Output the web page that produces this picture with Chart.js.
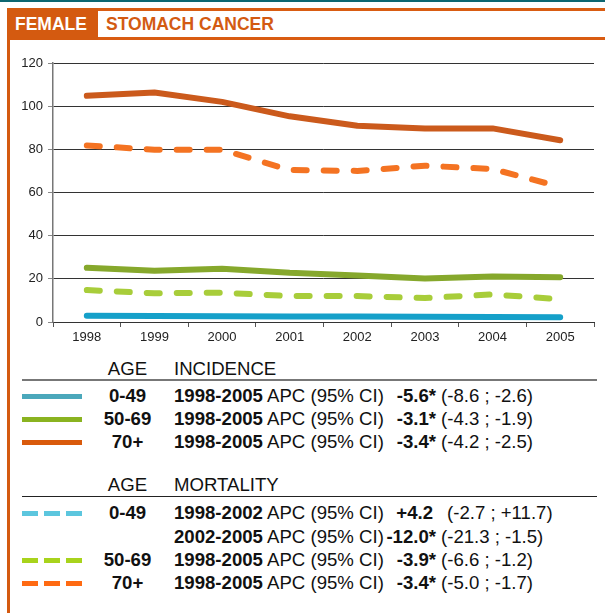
<!DOCTYPE html>
<html>
<head>
<meta charset="utf-8">
<script src="https://cdn.jsdelivr.net/npm/chart.js@4.4.1/dist/chart.umd.min.js"></script>
<style>
  html, body { margin: 0; padding: 0; background: #fff; }
  body { width: 605px; height: 613px; position: relative; overflow: hidden;
         font-family: "Liberation Sans", Arial, Helvetica, sans-serif; color: #111; }
  .abs { position: absolute; }
  #topline { left: 0; top: 0; width: 605px; height: 2px; background: #0d6670; }
  #orangeTop { left: 7px; top: 8px; width: 598px; height: 3px; background: #d95c12; }
  #femaleBox { left: 7px; top: 8px; width: 91px; height: 32px; background: #d45a10; }
  #femaleTxt { left: 15px; top: 11px; line-height: 26px; font-size: 17.5px; font-weight: bold; color: #fff; }
  #titleTxt { left: 106px; top: 11px; line-height: 26px; font-size: 17.5px; font-weight: bold; color: #d35a12; }
  #orangeBot { left: 98px; top: 37px; width: 507px; height: 3px; background: #d95c12; }
  #leftBorder { left: 7px; top: 40px; width: 2.5px; height: 573px; background: #d45a10; }
  #chartBox { left: 10px; top: 45px; width: 595px; height: 305px; }
  .row { position: absolute; left: 0; width: 605px; height: 22px; line-height: 22px; font-size: 18.6px; white-space: nowrap; }
  .row span { position: absolute; top: 0; }
  .sw { left: 22px; width: 60px; height: 5px; top: 8.5px !important; }
  .age { left: 95px; width: 65px; text-align: center; font-weight: bold; }
  .per { left: 174px; }
  .val { right: 169px; font-weight: bold; }
  .ci { left: 441px; }
  .rule { position: absolute; left: 22px; width: 575px; height: 1.5px; }
</style>
</head>
<body>
<div id="topline" class="abs"></div>
<div id="orangeTop" class="abs"></div>
<div id="femaleBox" class="abs"></div>
<div id="femaleTxt" class="abs">FEMALE</div>
<div id="titleTxt" class="abs">STOMACH CANCER</div>
<div id="orangeBot" class="abs"></div>
<div id="leftBorder" class="abs"></div>
<div id="chartBox" class="abs"><canvas id="c" width="595" height="305"></canvas></div>
<div id="legend"></div>

<script>
// valores (tasa por 100 000)
const years = ['1998', '1999', '2000', '2001', '2002', '2003', '2004', '2005'];
const yTicks = [0, 20, 40, 60, 80, 100, 120];
const incid049 = [2.9, 2.8, 2.7, 2.6, 2.5, 2.4, 2.3, 2.2];
const incid5069 = [25.1, 23.8, 24.7, 22.8, 21.6, 20.2, 21.1, 20.7];
const incid70 = [104.8, 106.3, 102.0, 95.3, 90.9, 89.6, 89.7, 84.2];
const mort5069 = [14.8, 13.3, 13.6, 12.0, 12.0, 11.1, 12.8, 10.5];
const mort70 = [81.8, 79.8, 79.8, 70.4, 70.0, 72.4, 70.9, 62.6];

// leyenda
const ageGroups = ['0-49', '50-69', '70+'];
const incidPeriods = ['1998-2005', '1998-2005', '1998-2005'];
const incidApc = ['-5.6*', '-3.1*', '-3.4*'];
const incidCi = ['(-8.6 ; -2.6)', '(-4.3 ; -1.9)', '(-4.2 ; -2.5)'];
const mortAges = ['0-49', '', '50-69', '70+'];
const mortPeriods = ['1998-2002', '2002-2005', '1998-2005', '1998-2005'];
const mortApc = ['+4.2', '-12.0*', '-3.9*', '-3.4*'];
const mortCi = ['(-2.7 ; +11.7)', '(-21.3 ; -1.5)', '(-6.6 ; -1.2)', '(-5.0 ; -1.7)'];

const incidColors = ['#4ba8bb', '#8ab320', '#d95a0c'];
const mortColors = ['#5cc6de', null, '#a8d31c', '#ff6a12'];

function buildLegend() {
    var box = document.getElementById('legend');
    var html = '';

    function header(y, label, ruleColor, ruleY) {
        html += '<div class="row" style="top:' + (y - 11) + 'px"><span class="age" style="font-weight:normal">AGE</span>' +
            '<span class="per">' + label + '</span></div>';
        html += '<div class="rule" style="top:' + ruleY + 'px;background:' + ruleColor + '"></div>';
    }

    function row(y, color, dashed, age, period, apc, ci) {
        var sw = '';
        if (color) {
            var bg = dashed
                ? 'repeating-linear-gradient(to right,' + color + ' 0 16px, transparent 16px 22px)'
                : color;
            sw = '<span class="sw" style="background:' + bg + '"></span>';
        }
        // sin asterisco el valor queda un poco más a la izquierda
        var starPad = apc.indexOf('*') < 0 ? 'style="right:172px"' : '';
        var ciPos = apc.indexOf('*') < 0 ? 'style="left:447px"' : '';
        html += '<div class="row" style="top:' + (y - 11) + 'px">' + sw +
            '<span class="age">' + age + '</span>' +
            '<span class="per"><b>' + period + '</b> APC (95% CI)</span>' +
            '<span class="val" ' + starPad + '>' + apc + '</span>' +
            '<span class="ci" ' + ciPos + '>' + ci + '</span></div>';
    }

    header(369, 'INCIDENCE', '#777', 379);
    var incidY = [396, 419, 442];
    for (var i = 0; i < ageGroups.length; i++) {
        row(incidY[i], incidColors[i], false, ageGroups[i], incidPeriods[i], incidApc[i], incidCi[i]);
    }

    header(485, 'MORTALITY', '#222', 495.5);
    var mortY = [513, 537, 560, 583];
    for (var j = 0; j < mortAges.length; j++) {
        row(mortY[j], mortColors[j], true, mortAges[j], mortPeriods[j], mortApc[j], mortCi[j]);
    }

    box.innerHTML = html;
}
buildLegend();

function lineSet(data, color, dashed) {
    return {
        data: data,
        borderColor: color,
        borderWidth: 6,
        borderDash: dashed ? [13, 17] : [],
        borderCapStyle: 'round',
        borderJoinStyle: 'round',
        pointRadius: 0,
        tension: 0,
        fill: false
    };
}

var ctx = document.getElementById('c').getContext('2d');
var chart = new Chart(ctx, {
    type: 'line',
    data: {
        labels: years,
        datasets: [
            lineSet(incid70, '#cb5a1c', false),
            lineSet(mort70, '#f47322', true),
            lineSet(incid5069, '#86a82c', false),
            lineSet(mort5069, '#a8cd3a', true),
            lineSet(incid049, '#15a0c9', false)
        ]
    },
    options: {
        responsive: false,
        animation: false,
        layout: { padding: { top: 18, right: 11, left: 0, bottom: 0 } },
        plugins: {
            legend: { display: false },
            tooltip: { enabled: false }
        },
        scales: {
            x: {
                offset: true,
                afterFit: function (scale) { scale.height = 28; },
                grid: { drawOnChartArea: false, drawTicks: true, tickLength: 5, tickColor: '#555', offset: true },
                border: { color: '#333', width: 1 },
                ticks: { color: '#222', font: { size: 13, family: 'Liberation Sans' }, padding: 3, maxRotation: 0 }
            },
            y: {
                min: 0,
                max: 120,
                afterFit: function (scale) { scale.width = 43; },
                afterBuildTicks: function (scale) {
                    scale.ticks = yTicks.map(function (v) { return { value: v }; });
                },
                grid: { color: '#333', lineWidth: 1, tickLength: 5, tickColor: '#888' },
                border: { color: '#777', width: 1.5 },
                ticks: { color: '#222', font: { size: 13, family: 'Liberation Sans' }, padding: 5 }
            }
        }
    }
});
</script>
</body>
</html>
